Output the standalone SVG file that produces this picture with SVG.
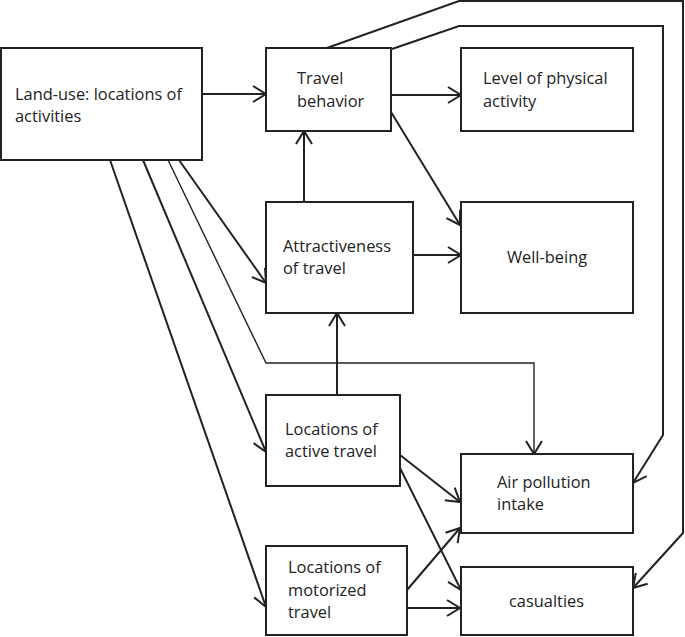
<svg xmlns="http://www.w3.org/2000/svg" width="685" height="637" viewBox="0 0 685 637">
<style>
.box{fill:#fff;stroke:#222;stroke-width:2}
.t{font-family:"Open Sans","Noto Sans","Liberation Sans",sans-serif;font-size:16.4px;fill:#222}
.c{fill:none;stroke:#222;stroke-width:2;marker-end:url(#ah)}
.thin{stroke-width:1.4}
</style>
<defs>
<marker id="ah" viewBox="0 0 13 16" refX="13" refY="8" markerWidth="13" markerHeight="16" markerUnits="userSpaceOnUse" orient="auto" overflow="visible">
<path d="M0,0 L13,8 L0,16" fill="none" stroke="#222" stroke-width="2"/>
</marker>
</defs>
<rect width="685" height="637" fill="#fff"/>
<g id="connectors">
<path class="c" d="M202,94 L266,94"/>
<path class="c" d="M391,95 L461,95"/>
<path class="c" d="M391,112 L460,225"/>
<path class="c" d="M304,202 L304,131"/>
<path class="c" d="M413,255 L461,255"/>
<path class="c" d="M337,395 L337,313"/>
<path class="c" d="M179,160 L266,283"/>
<path class="c thin" d="M168,160 L266,363 L534,363 L534,454"/>
<path class="c" d="M143,160 L266,452"/>
<path class="c" d="M110,160 L266,607"/>
<path class="c" d="M400,455 L460,502"/>
<path class="c" d="M400,468 L461,590"/>
<path class="c" d="M407,590 L460,528"/>
<path class="c" d="M407,608 L460,608"/>
<path class="c" d="M392,49 L459,26 L663,26 L663,435 L633,483"/>
<path class="c" d="M324,49 L459,1 L683,1 L683,533 L633,588"/>
</g>
<g id="landuse"><rect class="box" x="1" y="48" width="201" height="112"/>
<text class="t" x="15" y="100">Land-use: locations of</text><text class="t" x="15" y="122">activities</text></g>
<g id="travel"><rect class="box" x="266" y="48" width="125" height="83"/>
<text class="t" x="297" y="84">Travel</text><text class="t" x="297" y="107">behavior</text></g>
<g id="physical"><rect class="box" x="461" y="48" width="172" height="83"/>
<text class="t" x="483" y="84">Level of physical</text><text class="t" x="483" y="107">activity</text></g>
<g id="attract"><rect class="box" x="266" y="202" width="147" height="111"/>
<text class="t" x="283" y="252">Attractiveness</text><text class="t" x="283" y="274">of travel</text></g>
<g id="wellbeing"><rect class="box" x="461" y="202" width="172" height="111"/>
<text class="t" x="547" y="263" text-anchor="middle">Well-being</text></g>
<g id="active"><rect class="box" x="266" y="395" width="134" height="91"/>
<text class="t" x="285" y="435">Locations of</text><text class="t" x="285" y="457">active travel</text></g>
<g id="air"><rect class="box" x="461" y="454" width="172" height="79"/>
<text class="t" x="497" y="488">Air pollution</text><text class="t" x="497" y="510">intake</text></g>
<g id="motorized"><rect class="box" x="266" y="546" width="141" height="89"/>
<text class="t" x="288" y="573">Locations of</text><text class="t" x="288" y="596">motorized</text><text class="t" x="288" y="618">travel</text></g>
<g id="casualties"><rect class="box" x="461" y="567" width="172" height="68"/>
<text class="t" x="509" y="607">casualties</text></g>
</svg>
